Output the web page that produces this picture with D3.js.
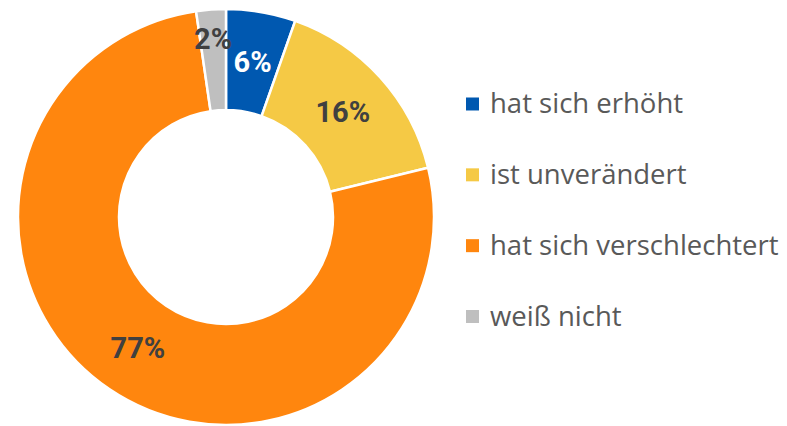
<!DOCTYPE html>
<html>
<head>
<meta charset="utf-8">
<script src="https://cdn.jsdelivr.net/npm/d3@7"></script>
<style>
  body { margin: 0; background: #fff; }
  svg { display: block; }
</style>
</head>
<body>
<svg id="chart" width="787" height="426"></svg>
<script>
/* Donut chart: Entwicklung */

const categories = ["hat sich erhöht", "ist unverändert", "hat sich verschlechtert", "weiß nicht"];
const values = [5.4, 15.8, 76.5, 2.3];
const valueLabels = ["6%", "16%", "77%", "2%"];
const colors = ["#0058B0", "#F5C945", "#FF860E", "#BFBFBF"];
const labelColors = ["#ffffff", "#404040", "#404040", "#404040"];

const svg = d3.select("#chart");
const cx = 226, cy = 217;
const outerR = 208, innerR = 107;

const data = categories.map((c, i) => ({name: c, value: values[i], label: valueLabels[i], i: i}));

const pie = d3.pie().value(d => d.value).sort(null);
const arc = d3.arc().innerRadius(innerR).outerRadius(outerR);
const labelArc = d3.arc().innerRadius(outerR * 0.86).outerRadius(outerR * 0.86);

const g = svg.append("g").attr("transform", `translate(${cx},${cy})`);

const arcs = pie(data);

g.selectAll("path.slice")
    .data(arcs).enter()
    .append("path").attr("class", "slice")
    .attr("d", arc)
    .attr("fill", d => colors[d.data.i])
    .attr("stroke", "#fff")
    .attr("stroke-width", 2.5)
    .attr("stroke-linejoin", "round");

g.selectAll("text.value")
    .data(arcs).enter()
    .append("text").attr("class", "value")
    .attr("transform", d => {
        // small slices get pushed outward so the label clears the neighbours
        const p = d.data.value < 3 ? labelArc.centroid(d) : arc.centroid(d);
        return `translate(${p[0]},${p[1]})`;
    })
    .attr("text-anchor", "middle")
    .attr("dy", "0.36em")
    .style("font-family", "Roboto, sans-serif")
    .style("font-weight", "bold")
    .style("font-size", "29px")
    .attr("fill", d => labelColors[d.data.i])
    .text(d => d.data.label);

// legend
const legendY = d3.scalePoint().domain(categories).range([104, 316.5]);

const legend = svg.append("g").attr("class", "legend");
const rows = legend.selectAll("g.row")
    .data(data).enter()
    .append("g").attr("class", "row")
    .attr("transform", d => `translate(466,${legendY(d.name)})`);

rows.append("rect")
    .attr("x", 0).attr("y", -6.5)
    .attr("width", 13).attr("height", 13)
    .attr("fill", d => colors[d.i]);

rows.append("text")
    .attr("x", 24).attr("y", 9)
    .style("font-family", "'Open Sans', sans-serif")
    .style("font-size", "27.5px")
    .attr("fill", "#595959")
    .text(d => d.name);
</script>
</body>
</html>
